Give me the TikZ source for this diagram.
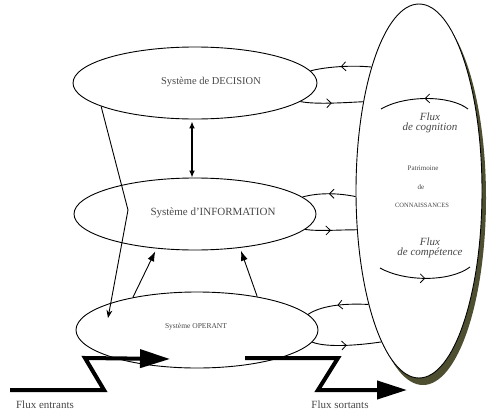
\documentclass[tikz,border=0pt]{standalone}
\usepackage{fontspec}
\setmainfont{Liberation Serif}
\usetikzlibrary{shapes.geometric,arrows.meta,decorations.markings}
\definecolor{shadowolive}{RGB}{78,78,48}
\begin{document}
\begin{tikzpicture}[x=1pt,y=-1pt,
  ell/.style={draw, ellipse, inner sep=0pt, line width=0.9pt},
  lbl/.style={text=black!72, inner sep=0pt},
  wire/.style={line width=0.9pt},
  midarrow/.style={postaction={decorate}, decoration={markings,
      mark=at position 0.5 with {\arrow{Straight Barb[length=4.5pt,width=9pt,line width=0.8pt]}}}},
  thickflow/.style={line width=4pt, line cap=butt, line join=miter, -{Triangle[length=30pt,width=18pt]}},
  solidtip/.style={-{Latex[length=10pt,width=7pt]}, shorten >=3pt}
]
\useasboundingbox (0,0) rectangle (487,415);

% big ellipse with shadow
\fill[shadowolive] (423,198) ellipse [x radius=63, y radius=187];
\node[ell, fill=white, minimum width=126pt, minimum height=374pt] (big) at (419,191) {};

% three system ellipses
\node[ell, minimum width=244pt, minimum height=72pt] (dec) at (195,83) {};
\node[ell, minimum width=242pt, minimum height=72pt] (inf) at (195,214) {};
\node[ell, minimum width=242pt, minimum height=76pt] (ope) at (197,330) {};

% texts
\node[lbl, font=\fontsize{10.5}{12}\selectfont] (tdec) at (211,82) {Système de DECISION};
\node[lbl, font=\fontsize{11}{12}\selectfont] (tinf) at (213,213) {Système d'INFORMATION};
\node[lbl, font=\fontsize{7.5}{9}\selectfont] (tope) at (196,327) {Système OPERANT};
\node[lbl, font=\fontsize{7}{8}\selectfont] (tpat) at (423,168) {Patrimoine};
\node[lbl, font=\fontsize{7}{8}\selectfont] (tde) at (421,187) {de};
\node[lbl, font=\fontsize{6.5}{8}\selectfont] (tcon) at (422,205) {CONNAISSANCES};
\node[lbl, font=\itshape\fontsize{11}{10}\selectfont, align=center] (tcog) at (430,123) {Flux\\ de cognition};
\node[lbl, font=\itshape\fontsize{11}{10}\selectfont, align=center] (tcomp) at (430,248) {Flux\\ de compétence};
\node[lbl, font=\fontsize{11}{12}\selectfont] (tin) at (45,405) {Flux entrants};
\node[lbl, font=\fontsize{11}{12}\selectfont] (tout) at (340,405) {Flux sortants};

% exchanges with the big ellipse
\draw[wire, midarrow] (big.111) .. controls +(-20,-2) and +(15,-4) .. (dec.6);
\draw[wire, midarrow] (dec.-10) .. controls +(15,3) and +(-20,1) .. (big.122);
\draw[wire, midarrow] (big.185) .. controls +(-20,-4) and +(15,-4) .. (inf.9);
\draw[wire, midarrow] (inf.-8) .. controls +(15,2) and +(-20,0) .. (big.212);
\draw[wire, midarrow] (big.246) .. controls +(-20,-1) and +(15,-10) .. (ope.8);
\draw[wire, midarrow] (ope.-6) .. controls +(15,6) and +(-20,3) .. (big.256);

% arcs inside the big ellipse
\coordinate (cogA) at (468,109);
\coordinate (cogB) at (381,109);
\coordinate (comA) at (380,268);
\coordinate (comB) at (470,267);
\draw[wire, midarrow] (cogA) .. controls (450,95) and (405,95) .. (cogB);
\draw[wire, midarrow] (comA) .. controls (405,282) and (450,282) .. (comB);

% decision <-> information
\draw[line width=2pt, {Latex[length=7pt,width=6pt]}-{Latex[length=7pt,width=6pt]}] (dec.south) ++(-3,2) coordinate (dA) -- (dA |- inf.north) coordinate (dB);

% decision -> operant
\coordinate (bend) at (128,210);
\coordinate (opin) at (108,318);
\draw[wire, -{Stealth[length=8pt,width=6pt]}] (dec.194) -- (bend) -- (opin);

% operant -> information
\draw[wire, solidtip] (ope.153) -- (inf.222);
\draw[wire, solidtip] (ope.29) -- (inf.-37);

% thick flows
\coordinate (e0) at (10,390);
\coordinate (e1) at (104,390);
\coordinate (e2) at (85,358);
\coordinate (e3) at (170,359);
\draw[thickflow] (e0) -- (e1) -- (e2) -- (e3);
\coordinate (s0) at (245,358);
\coordinate (s1) at (338,358);
\coordinate (s2) at (318,390);
\coordinate (s3) at (407,390);
\draw[thickflow] (s0) -- (s1) -- (s2) -- (s3);
\end{tikzpicture}
\end{document}
